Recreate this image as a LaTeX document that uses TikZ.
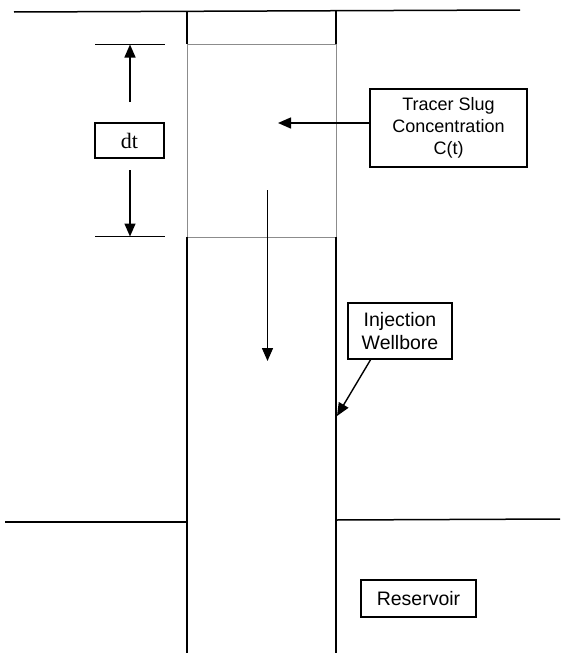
\documentclass[tikz,border=0pt]{standalone}
\usepackage{fontspec}
\setmainfont{Liberation Serif}
\newfontfamily\labelsans{Liberation Sans}
\usetikzlibrary{arrows.meta}
\begin{document}
\begin{tikzpicture}[x=1pt,y=-1pt,
  wall/.style={line width=1.5pt,black},
  slugline/.style={line width=0.9pt,black!45},
  tick/.style={line width=1.6pt},
  arr/.style={line width=1.4pt,-{Triangle[length=13pt,width=11pt]}},
  labelbox/.style={draw,line width=1.3pt,inner sep=0pt,align=center,font=\labelsans\fontsize{18}{22}\selectfont},
  dtbox/.style={draw,line width=1.3pt,inner sep=0pt,font=\fontsize{22}{24}\selectfont}]
\useasboundingbox (0,0) rectangle (560,653);
% ground surface
\draw[wall] (14,12) -- (520,10);
% wellbore walls
\draw[wall] (187,11) -- (187,44);
\draw[wall] (336,10) -- (336,44);
\draw[slugline] (187,44) -- (336,44);
\draw[slugline] (187,44) -- (187,237);
\draw[slugline] (336,44) -- (336,237);
\draw[slugline] (187,237) -- (336,237);
\draw[wall] (187,237) -- (187,653);
\draw[wall] (336,237) -- (336,653);
% reservoir top
\draw[wall] (5,522) -- (187,522);
\draw[wall] (336,520) -- (560,519);
% dt dimension
\draw[tick] (95,44.5) -- (165,44.5);
\draw[tick] (95,236.5) -- (165,236.5);
\node[dtbox,minimum width=69pt,minimum height=35pt] (dt) at (129.5,140.5) {dt};
\coordinate (dttop) at (130,44.5);
\coordinate (dtbot) at (130,236.5);
\coordinate (upstart) at (130,102);
\coordinate (dnstart) at (130,170);
\draw[arr] (upstart) -- (dttop);
\draw[arr] (dnstart) -- (dtbot);
% tracer slug label
\node[labelbox,minimum width=157pt,minimum height=78pt] (tr) at (448.5,128) {Tracer Slug\\Concentration\\C(t)};
\coordinate (slug) at (278,123);
\draw[arr] (tr.west |- slug) -- (slug);
% flow arrow
\coordinate (flowtop) at (267.5,190);
\coordinate (flowbot) at (267.5,361);
\draw[arr] (flowtop) -- (flowbot);
% injection wellbore label
\node[labelbox,font=\labelsans\fontsize{19.5}{23}\selectfont,minimum width=104pt,minimum height=56pt] (inj) at (400,331) {Injection\\Wellbore};
\coordinate (wallpt) at (337,416);
\draw[arr] (371,359) -- (wallpt);
% reservoir label
\node[labelbox,font=\labelsans\fontsize{19.5}{23}\selectfont,minimum width=115pt,minimum height=37pt] (res) at (418.5,598.5) {Reservoir};
\end{tikzpicture}
\end{document}
